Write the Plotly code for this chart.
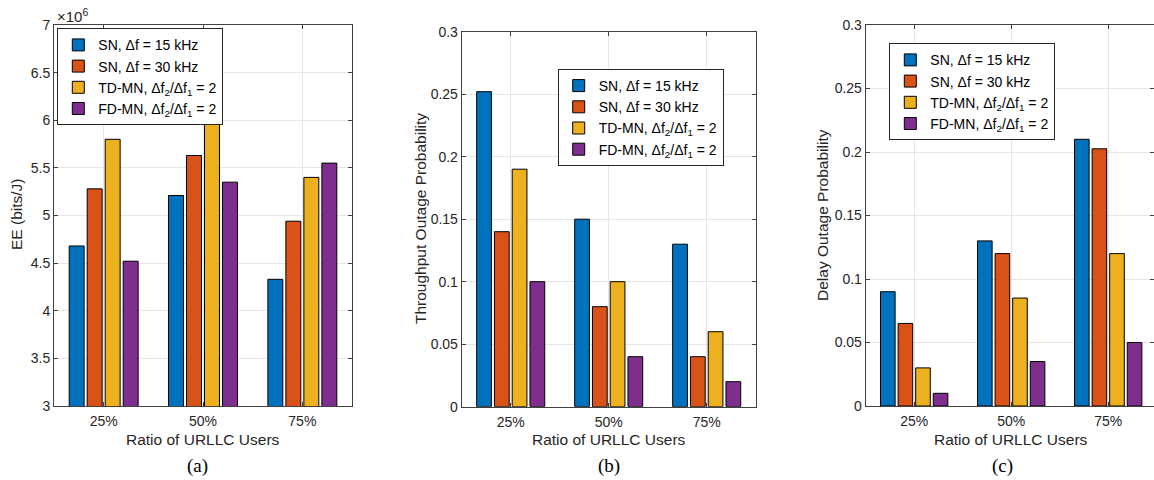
import plotly.graph_objects as go

categories = ["25%", "50%", "75%"]
series_names = [
    "SN, Δf = 15 kHz",
    "SN, Δf = 30 kHz",
    "TD-MN, Δf<sub>2</sub>/Δf<sub>1</sub> = 2",
    "FD-MN, Δf<sub>2</sub>/Δf<sub>1</sub> = 2",
]
colors = ["#0072BD", "#D95319", "#EDB120", "#7E2F8E"]

# (a) Energy efficiency, in units of 1e6 bits/J
ee_sn15 = [4.68, 5.21, 4.33]
ee_sn30 = [5.28, 5.63, 4.94]
ee_td = [5.80, 6.05, 5.40]
ee_fd = [4.52, 5.35, 5.55]

# (b) Throughput outage probability
tp_sn15 = [0.252, 0.15, 0.13]
tp_sn30 = [0.14, 0.08, 0.04]
tp_td = [0.19, 0.10, 0.06]
tp_fd = [0.10, 0.04, 0.02]

# (c) Delay outage probability
dl_sn15 = [0.09, 0.13, 0.21]
dl_sn30 = [0.065, 0.12, 0.2025]
dl_td = [0.03, 0.085, 0.12]
dl_fd = [0.01, 0.035, 0.05]

ee_ticks = [3, 3.5, 4, 4.5, 5, 5.5, 6, 6.5, 7]
ee_ticklabels = ["3", "3.5", "4", "4.5", "5", "5.5", "6", "6.5", "7"]
prob_ticks = [0, 0.05, 0.1, 0.15, 0.2, 0.25, 0.3]
prob_ticklabels = ["0", "0.05", "0.1", "0.15", "0.2", "0.25", "0.3"]

W, H = 1154, 480
FONT = "Liberation Sans, Arial, sans-serif"
AX = "#404040"
GRID = "#e6e6e6"

fig = go.Figure()
xpos = [1, 2, 3]
panels = [
    ("x", "y", "legend", [ee_sn15, ee_sn30, ee_td, ee_fd]),
    ("x2", "y2", "legend2", [tp_sn15, tp_sn30, tp_td, tp_fd]),
    ("x3", "y3", "legend3", [dl_sn15, dl_sn30, dl_td, dl_fd]),
]
for xa, ya, lg, data in panels:
    for name, col, vals in zip(series_names, colors, data):
        fig.add_trace(go.Bar(
            x=xpos, y=vals, name=name, xaxis=xa, yaxis=ya, legend=lg,
            marker=dict(color=col, line=dict(color="#000000", width=1)),
            hoverinfo="skip",
        ))


def px_x(p):
    return p / W


def px_y(p):
    return (H - p) / H


xdomains = [
    [px_x(54), px_x(352)],
    [px_x(461.7), px_x(755.7)],
    [px_x(865.7), 1.0],
]
ydomains = [
    [px_y(406), px_y(25)],
    [px_y(406.7), px_y(31.7)],
    [px_y(406), px_y(25)],
]
xranges = [[0.5, 3.5], [0.5, 3.5], [0.5, 0.5 + (W - 865.7) / 97.0]]

common_axis = dict(
    showline=True, linecolor=AX, linewidth=1, mirror="ticks",
    ticks="inside", ticklen=4, tickcolor=AX, automargin=False,
    showgrid=True, gridcolor=GRID, gridwidth=1, zeroline=False,
    tickfont=dict(family=FONT, size=14, color="#262626"),
)

layout = dict(
    template="none",
    width=W, height=H, autosize=False,
    margin=dict(l=0, r=0, t=0, b=0, pad=0, autoexpand=False),
    plot_bgcolor="white", paper_bgcolor="white",
    barmode="group", bargap=0.275, bargroupgap=0.17,
    font=dict(family=FONT, size=14, color="#262626"),
)
yranges = [[3, 7], [0, 0.3], [0, 0.3]]
yt = [(ee_ticks, ee_ticklabels), (prob_ticks, prob_ticklabels), (prob_ticks, prob_ticklabels)]
for i in range(3):
    sx = "" if i == 0 else str(i + 1)
    layout["xaxis" + sx] = dict(
        common_axis, domain=xdomains[i], range=xranges[i], anchor="y" + sx,
        tickmode="array", tickvals=xpos, ticktext=categories, ticklabelstandoff=2,
    )
    layout["yaxis" + sx] = dict(
        common_axis, domain=ydomains[i], range=yranges[i], anchor="x" + sx,
        tickmode="array", tickvals=yt[i][0], ticktext=yt[i][1],
    )

legend_style = dict(
    bgcolor="white", bordercolor="#262626", borderwidth=1,
    font=dict(family=FONT, size=14, color="#000000"),
    xanchor="left", yanchor="top", tracegroupgap=0, itemwidth=30,
)
layout["legend"] = dict(legend_style, x=px_x(57.3), y=px_y(28.3))
layout["legend2"] = dict(legend_style, x=px_x(557.7), y=px_y(69))
layout["legend3"] = dict(legend_style, x=px_x(889.3), y=px_y(43.3))

fig.update_layout(**layout)

annotations = []
# y-axis titles
for txt, xc, yc in [("EE (bits/J)", 17, 215), ("Throughput Outage Probability", 420, 219),
                    ("Delay Outage Probability", 823, 215)]:
    annotations.append(dict(text=txt, x=px_x(xc), y=px_y(yc), xref="paper", yref="paper",
                            textangle=-90, showarrow=False, xanchor="center", yanchor="middle",
                            font=dict(family=FONT, size=15.5, color="#262626")))
# x-axis titles
for xc in [203, 608.7, 1011]:
    annotations.append(dict(text="Ratio of URLLC Users", x=px_x(xc), y=px_y(439), xref="paper",
                            yref="paper", showarrow=False, xanchor="center", yanchor="middle",
                            font=dict(family=FONT, size=15.5, color="#262626")))
# panel labels
for txt, xc in [("(a)", 197), ("(b)", 608.7), ("(c)", 1002)]:
    annotations.append(dict(text=txt, x=px_x(xc), y=px_y(466), xref="paper", yref="paper",
                            showarrow=False, xanchor="center", yanchor="middle",
                            font=dict(family="Liberation Serif, Times New Roman, serif", size=19,
                                      color="#000000")))
# exponent label
annotations.append(dict(text="×10<sup>6</sup>", x=px_x(55), y=px_y(15), xref="paper", yref="paper",
                        showarrow=False, xanchor="left", yanchor="middle",
                        font=dict(family=FONT, size=15, color="#262626")))
fig.update_layout(annotations=annotations)

fig.write_html("out.html")
